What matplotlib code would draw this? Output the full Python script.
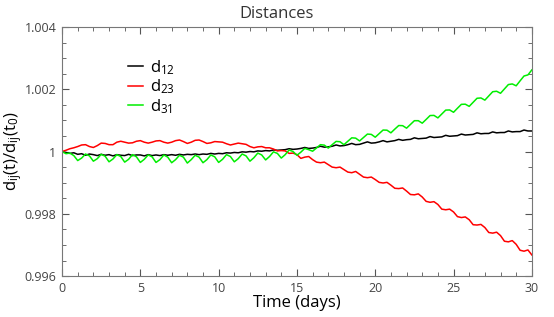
import numpy as np
import matplotlib
matplotlib.use('Agg')
import matplotlib.pyplot as plt
from matplotlib.ticker import MultipleLocator, FuncFormatter

plt.rcParams['font.family'] = ['Open Sans', 'DejaVu Sans']
plt.rcParams['mathtext.fontset'] = 'custom'
plt.rcParams['mathtext.rm'] = 'Open Sans'
plt.rcParams['mathtext.it'] = 'Open Sans'
plt.rcParams['mathtext.default'] = 'rm'

# time grid (days), sampled every quarter day
t_days = np.arange(0, 30.001, 0.25)

# relative deviations d(t)/d(t0) - 1, in units of 1e-4
d12_dev = [
    0.0, -0.3, -0.6, -0.4,  -0.9, -0.7, -1.2, -0.8,  -1.0, -1.3, -0.9, -1.2,
    -1.0, -1.4, -1.0, -1.2,  -1.3, -0.9, -1.3, -1.1,  -1.1, -1.4, -1.0, -1.3,
    -1.1, -1.3, -1.0, -1.2,  -1.0, -1.2, -0.9, -1.1,  -0.9, -1.0, -0.8, -1.0,
    -0.8, -0.9, -0.6, -0.8,  -0.6, -0.7, -0.4, -0.5,  -0.3, -0.4, -0.1, -0.2,
    0.0, -0.1, 0.2, 0.1,  0.3, 0.2, 0.5, 0.4,  0.5, 0.6, 0.9, 0.7,
    0.8, 1.0, 1.3, 1.0,  1.1, 1.3, 1.7, 1.4,  1.5, 1.7, 2.1, 1.8,
    1.9, 2.2, 2.6, 2.2,  2.3, 2.7, 3.1, 2.7,  2.8, 3.1, 3.5, 3.1,
    3.3, 3.5, 3.9, 3.6,  3.8, 3.9, 4.4, 4.1,  4.2, 4.3, 4.8, 4.5,
    4.6, 4.7, 5.2, 4.9,  5.0, 5.1, 5.6, 5.3,  5.4, 5.5, 6.0, 5.7,
    5.8, 5.8, 6.3, 6.0,  6.1, 6.1, 6.6, 6.3,  6.4, 6.4, 6.9, 6.6,
    6.6,
]
d23_dev = [
    0.0, 0.4, 0.9, 1.2,  1.6, 2.1, 2.2, 1.6,  1.3, 1.9, 2.7, 2.6,
    2.2, 2.2, 3.0, 3.3,  3.0, 2.7, 2.8, 3.3,  3.5, 3.0, 2.7, 3.0,
    3.4, 3.5, 3.0, 2.7,  3.0, 3.5, 3.7, 3.2,  2.6, 3.0, 3.6, 3.7,
    3.2, 2.6, 2.8, 3.2,  3.1, 3.0, 2.5, 2.1,  2.4, 2.7, 2.5, 2.3,
    1.6, 1.2, 1.5, 1.6,  1.2, 1.2, 0.8, 0.2,  0.3, 0.2, -0.6, -0.5,
    -1.0, -2.2, -1.8, -1.6,  -2.6, -3.4, -3.6, -3.4,  -4.2, -5.0, -5.2, -5.0,
    -5.8, -6.6, -6.8, -6.4,  -7.3, -8.2, -8.4, -8.2,  -9.0, -9.9, -10.1, -9.9,
    -10.8, -11.8, -11.9, -11.7,  -12.7, -13.8, -13.9, -13.6,  -14.6, -16.0, -16.3, -16.1,
    -17.0, -18.5, -18.7, -18.5,  -19.4, -20.9, -21.2, -21.0,  -21.9, -23.5, -23.6, -23.4,
    -24.4, -26.0, -26.2, -25.9,  -27.0, -28.8, -29.0, -28.6,  -29.8, -31.7, -32.0, -31.6,
    -33.2,
]
d31_dev = [
    0.0, -0.7, -0.5, -1.3,  -2.9, -2.1, -0.8, -1.4,  -3.1, -2.3, -0.9, -1.5,
    -3.3, -2.4, -1.0, -1.6,  -3.4, -2.5, -1.0, -1.7,  -3.5, -2.5, -1.1, -1.7,
    -3.5, -2.6, -1.1, -1.8,  -3.6, -2.6, -1.2, -1.8,  -3.7, -2.6, -1.2, -1.8,
    -3.6, -2.6, -1.1, -1.7,  -3.5, -2.5, -1.0, -1.6,  -3.3, -2.3, -0.8, -1.4,
    -3.1, -2.0, -0.5, -1.1,  -2.7, -1.6, -0.1, -0.6,  -2.1, -1.0, 0.5, 0.0,
    -1.2, -0.2, 1.0, 0.6,  0.1, 1.15, 2.2, 2.05,  1.1, 2.2, 3.25, 3.15,
    2.2, 3.3, 4.4, 4.3,  3.4, 4.5, 5.6, 5.5,  4.6, 5.75, 6.9, 6.85,
    6.0, 7.2, 8.35, 8.3,  7.5, 8.7, 9.9, 9.9,  9.1, 10.3, 11.55, 11.6,
    10.8, 12.05, 13.3, 13.35,  12.6, 13.9, 15.15, 15.2,  14.5, 15.8, 17.1, 17.2,
    16.5, 17.85, 19.2, 19.35,  18.7, 20.1, 21.5, 21.7,  21.1, 22.7, 24.25, 24.6,
    26.2,
]

series = [
    (d12_dev, 'black', r'$\mathrm{d_{12}}$'),
    (d23_dev, 'red', r'$\mathrm{d_{23}}$'),
    (d31_dev, '#00ee00', r'$\mathrm{d_{31}}$'),
]

fig = plt.figure(figsize=(5.54, 3.17), dpi=100)
ax = fig.add_axes([0.112, 0.129, 0.848, 0.786])

for dev, color, label in series:
    ax.plot(t_days, 1 + np.array(dev) * 1e-4, color=color, lw=1.1, label=label)

ax.set_xlim(0, 30)
ax.set_ylim(0.996, 1.004)
ax.xaxis.set_major_locator(MultipleLocator(5))
ax.xaxis.set_minor_locator(MultipleLocator(1))
ax.yaxis.set_major_locator(MultipleLocator(0.002))
ax.yaxis.set_minor_locator(MultipleLocator(0.0005))
ax.yaxis.set_major_formatter(FuncFormatter(lambda v, p: '{:g}'.format(round(v, 4))))

ax.tick_params(which='both', direction='in', top=True, right=True,
               color='#555555', labelcolor='#444444', labelsize=9)
ax.tick_params(which='major', length=5, pad=4)
ax.tick_params(which='minor', length=3)
for sp in ax.spines.values():
    sp.set_color('#777777')

# title is centred on the whole figure in the reference
fig.text(0.5, 0.955, 'Distances', ha='center', va='center',
         fontsize=12, color='#333333')
ax.set_xlabel('Time (days)', fontsize=12, labelpad=0)
ax.set_ylabel(r'$\mathrm{d_{ij}(t)/d_{ij}(t_0)}$', fontsize=12)
ax.yaxis.set_label_coords(-0.08, 0.5)

ax.legend(loc='upper left', bbox_to_anchor=(0.108, 0.935), frameon=False,
          fontsize=12, handlelength=0.9, handletextpad=0.45, labelspacing=0.05)

fig.savefig('out.png', dpi=100)
